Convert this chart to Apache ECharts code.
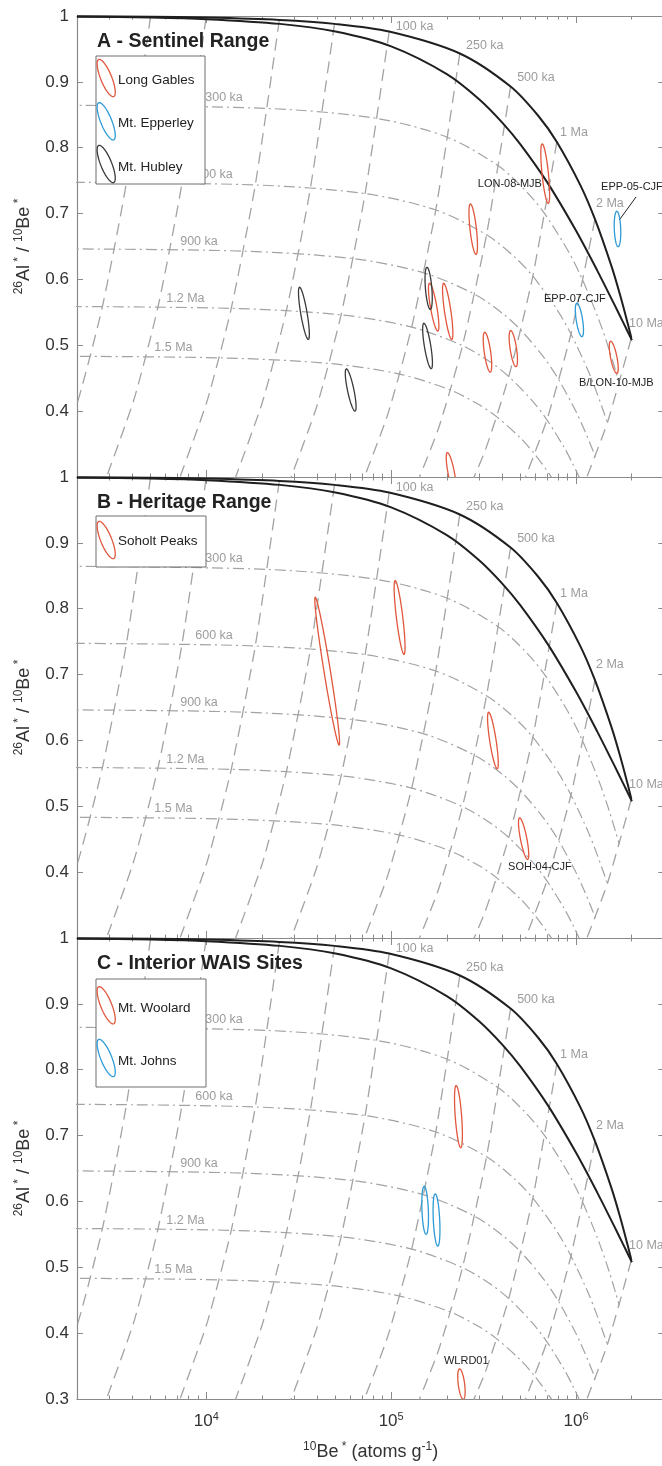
<!DOCTYPE html>
<html>
<head>
<meta charset="utf-8">
<script src="https://cdn.jsdelivr.net/npm/echarts@6/dist/echarts.min.js"></script>
<style>
html,body{margin:0;padding:0;background:#ffffff;}
#chart{width:662px;height:1466px;}
</style>
</head>
<body>
<div id="chart"></div>
<script>
// ---------------- DATA ----------------
// x = 10Be* (atoms g-1), y = 26Al*/10Be*
const xMajorTicks = [1e4, 1e5, 1e6];
const xMinorTicks = [3000,4000,5000,6000,7000,8000,9000,
  20000,30000,40000,50000,60000,70000,80000,90000,
  200000,300000,400000,500000,600000,700000,800000,900000,2000000,3000000];
const yTickLabelsAB = [0.4,0.5,0.6,0.7,0.8,0.9,1];
const yTickLabelsC = [0.3,0.4,0.5,0.6,0.7,0.8,0.9,1];

// constant exposure curve
const exposureCurve = [[1999,0.99952],[4994,0.99879],[9975,0.99758],[24845,0.99399],[49381,0.98805],
  [97547,0.97634],[235042,0.94305],[442401,0.89283],[625583,0.84815],[787150,0.80877],
  [1055954,0.74288],[1265299,0.69143],[1555513,0.61973],[1731711,0.57593],[1903633,0.53293],
  [1967008,0.51697],[1990369,0.51107]];
// steady erosion curve
const erosionCurve = [[2000,0.99903],[5000,0.99759],[10000,0.99518],[25000,0.98804],[50000,0.97637],
  [100000,0.95383],[200000,0.91174],[300000,0.87321],[400000,0.83780],[500000,0.80515],
  [700000,0.74694],[1000000,0.67385],[1300000,0.61380],[1600000,0.56357],[1800000,0.53442],
  [1900000,0.52094],[2004008,0.50763]];

// burial isochrons
const isochron300ka = [[1721,0.86443],[21391,0.85965],[83985,0.84439],[202365,0.81560],[380894,0.77217],
  [538609,0.73352],[677713,0.69947],[909146,0.64248],[1089385,0.59798],[1339249,0.53597],
  [1490950,0.49809],[1638969,0.46090],[1713648,0.44200]];
const isochron600ka = [[1482,0.74761],[18417,0.74347],[72309,0.73027],[174230,0.70537],[327940,0.66781],
  [463726,0.63439],[583491,0.60494],[782747,0.55565],[937928,0.51717],[1153055,0.46354],
  [1283666,0.43078],[1411106,0.39861],[1475401,0.38226]];
const isochron900ka = [[1276,0.64657],[15857,0.64299],[62256,0.63157],[150009,0.61004],[282349,0.57755],
  [399260,0.54865],[502375,0.52318],[673933,0.48055],[807539,0.44727],[992760,0.40089],
  [1105213,0.37256],[1214938,0.34474],[1270293,0.33060]];
const isochron1200ka = [[1098,0.55919],[13652,0.55610],[53601,0.54622],[129153,0.52760],[243095,0.49950],
  [343752,0.47451],[432531,0.45247],[580236,0.41561],[695269,0.38683],[854740,0.34671],
  [951558,0.32221],[1046026,0.29815],[1093688,0.28592]];
const isochron1500ka = [[946,0.48361],[11754,0.48093],[46148,0.47239],[111194,0.45628],[209291,0.43199],
  [295951,0.41037],[372385,0.39131],[499551,0.35944],[598588,0.33454],[735882,0.29985],
  [819240,0.27866],[900574,0.25785],[941610,0.24728]];

// burial paths starting from the exposure curve
const path5ka = [[4994,0.99879],[3702,0.74707],[2744,0.55878],[2034,0.41796],[1434,0.29784]];
const path10ka = [[9975,0.99758],[7394,0.74616],[5481,0.55811],[4063,0.41746],[2865,0.29748]];
const path25ka = [[24845,0.99399],[18417,0.74347],[13652,0.55610],[10120,0.41596],[7136,0.29641]];
const path50ka = [[49381,0.98805],[36605,0.73903],[27134,0.55277],[20114,0.41347],[14183,0.29464]];
const path100ka = [[97547,0.97634],[72309,0.73027],[53601,0.54622],[39734,0.40857],[28017,0.29114]];
const path250ka = [[235042,0.94305],[174230,0.70537],[129153,0.52760],[95740,0.39464],[67509,0.28122]];
const path500ka = [[442401,0.89283],[327940,0.66781],[243095,0.49950],[180203,0.37362],[127066,0.26624]];
const path1Ma = [[787150,0.80877],[583491,0.60494],[432531,0.45247],[320630,0.33845],[226085,0.24118]];
const path2Ma = [[1265299,0.69143],[937928,0.51717],[695269,0.38683],[515394,0.28934]];
const path10Ma = [[1990369,0.51107],[1475401,0.38226],[1093688,0.28592]];

// labels (left end, middle) in data space
const timeLabels = [[106000,0.9833,'100 ka'],[254000,0.9544,'250 ka'],[480000,0.9059,'500 ka'],
  [819000,0.8224,'1 Ma'],[1282000,0.7146,'2 Ma'],[1934000,0.5323,'10 Ma']];
const isochronLabels = [[9880,0.8755,'300 ka'],[8720,0.7586,'600 ka'],[7230,0.6568,'900 ka'],
  [6080,0.5703,'1.2 Ma'],[5240,0.4959,'1.5 Ma']];
const sampleLabelsA = [[294000,0.7449,'LON-08-MJB'],[1365000,0.7404,'EPP-05-CJF'],
  [671000,0.5703,'EPP-07-CJF'],[1038000,0.4428,'B/LON-10-MJB']];
const sampleLabelsB = [[429000,0.4078,'SOH-04-CJF']];
const sampleLabelsC = [[193000,0.3577,'WLRD01']];
const leaderEPP05 = [[2110000,0.7252],[1714000,0.6903]];

// uncertainty ellipses: [x top, y top, x bottom, y bottom]
const longGables = [[655000,0.8067,708000,0.7145],[268000,0.7156,288000,0.6371],[161000,0.595,179000,0.5207],
  [192000,0.595,213000,0.508],[320000,0.5207,344000,0.4584],[442000,0.5232,474000,0.4666],
  [1534000,0.507,1666000,0.4564],[201000,0.338,222000,0.275]];
const mtEpperley = [[1660000,0.7044,1690000,0.6488],[1008000,0.5647,1078000,0.5121]];
const mtHubley = [[156000,0.6193,163000,0.5536],[150000,0.5343,165000,0.4636],[57100,0.465,63900,0.3992],
  [31900,0.589,35700,0.508]];
const soholtPeaks = [[38800,0.8183,52400,0.592],[105000,0.8436,117500,0.7297],[336000,0.6436,375000,0.5562],
  [494000,0.4833,548000,0.4185]];
const mtWoolard = [[224500,0.7768,238000,0.6807],[234000,0.3466,246000,0.2985]];
const mtJohns = [[150800,0.6239,154600,0.549],[173000,0.6124,178800,0.5313]];

// ---------------- STYLE / LAYOUT ----------------
const FONT = '"Liberation Sans", Arial, Helvetica, sans-serif';
const RED = '#e0573d', BLUE = '#2e9bd6', DARK = '#3a3a3a';
const AXIS = '#8a8a8a', GREY = '#a3a3a3', LABEL_GREY = '#9c9c9c', TXT = '#333333';
const X_MIN = 2000, X_MAX = 3000000;
const GRID_LEFT = 77, GRID_W = 587.3, GRID_H = 461;
const GRID_TOPS = [16, 477, 938];
const ELLIPSE_HALF_W = 3.2;

const panels = [
  { title: 'A - Sentinel Range',
    groups: [['Long Gables', longGables, RED], ['Mt. Epperley', mtEpperley, BLUE], ['Mt. Hubley', mtHubley, DARK]],
    labels: sampleLabelsA, yLabels: yTickLabelsAB, xLabels: false,
    legend: { box: [96, 56, 109, 128], items: [[78, 80], [121.3, 123], [164, 167]] } },
  { title: 'B - Heritage Range',
    groups: [['Soholt Peaks', soholtPeaks, RED]],
    labels: sampleLabelsB, yLabels: yTickLabelsAB, xLabels: false,
    legend: { box: [96, 516, 110, 51], items: [[540, 541.7]] } },
  { title: 'C - Interior WAIS Sites',
    groups: [['Mt. Woolard', mtWoolard, RED], ['Mt. Johns', mtJohns, BLUE]],
    labels: sampleLabelsC, yLabels: yTickLabelsC, xLabels: true,
    legend: { box: [96, 979, 110, 108], items: [[1005.3, 1008], [1058, 1061]] } }
];

function ellipsePoints(cx, cy, ux, uy, a, b) {
  const vx = -uy, vy = ux, pts = [];
  for (let k = 0; k < 60; k++) {
    const f = 2 * Math.PI * k / 60, c = Math.cos(f), s = Math.sin(f);
    pts.push([cx + ux * a * c + vx * b * s, cy + uy * a * c + vy * b * s]);
  }
  return pts;
}

function ellipseRenderer(color) {
  return function (params, api) {
    const p1 = api.coord([api.value(0), api.value(1)]);
    const p2 = api.coord([api.value(2), api.value(3)]);
    const cx = (p1[0] + p2[0]) / 2, cy = (p1[1] + p2[1]) / 2;
    const dx = (p2[0] - p1[0]) / 2, dy = (p2[1] - p1[1]) / 2;
    const L = Math.hypot(dx, dy) || 1;
    const a = Math.max(L - 0.6, 1);
    return { type: 'polygon', shape: { points: ellipsePoints(cx, cy, dx / L, dy / L, a, ELLIPSE_HALF_W) },
      style: { fill: 'none', stroke: color, lineWidth: 1.3 } };
  };
}

function textRenderer(arr, color, size, weight) {
  return function (params, api) {
    const p = api.coord([api.value(0), api.value(1)]);
    return { type: 'text', x: p[0], y: p[1],
      style: { text: arr[params.dataIndex][2], fill: color, fontSize: size, fontFamily: FONT,
               fontWeight: weight, align: 'left', verticalAlign: 'middle' } };
  };
}

const supRich = {
  b: { fontSize: 18, color: TXT, fontFamily: FONT, lineHeight: 22 },
  s: { fontSize: 12, color: TXT, fontFamily: FONT, lineHeight: 12, verticalAlign: 'top' }
};

const grids = [], xAxes = [], yAxes = [], series = [], graphics = [];

panels.forEach((pn, i) => {
  grids.push({ left: GRID_LEFT, top: GRID_TOPS[i], width: GRID_W, height: GRID_H,
               containLabel: false, outerBoundsMode: 'none' });
  const xi = xAxes.length, yi = yAxes.length;
  const baseX = { type: 'log', logBase: 10, gridIndex: i, min: X_MIN, max: X_MAX,
                  splitLine: { show: false }, minorTick: { show: false }, minorSplitLine: { show: false } };
  xAxes.push(Object.assign({}, baseX, {
    position: 'bottom',
    axisLine: { show: true, lineStyle: { color: AXIS, width: 1.2 } },
    axisTick: { show: true, inside: true, length: 7, customValues: xMajorTicks, lineStyle: { color: AXIS } },
    axisLabel: { show: pn.xLabels, customValues: xMajorTicks, margin: 12,
      formatter: v => '{b|10}{s|' + Math.round(Math.log10(v)) + '}',
      rich: { b: { fontSize: 17, color: TXT, fontFamily: FONT, lineHeight: 20 },
              s: { fontSize: 11, color: TXT, fontFamily: FONT, lineHeight: 11, verticalAlign: 'top' } } },
    name: pn.xLabels ? '{s|10}{b|Be}{s| *}{b| (atoms g}{s|-1}{b|)}' : '',
    nameLocation: 'middle', nameGap: 42, nameTextStyle: { rich: supRich }
  }));
  xAxes.push(Object.assign({}, baseX, { position: 'bottom', axisLine: { show: false },
    axisTick: { show: true, inside: true, length: 3.5, customValues: xMinorTicks, lineStyle: { color: AXIS } },
    axisLabel: { show: false } }));
  xAxes.push(Object.assign({}, baseX, { position: 'top',
    axisLine: { show: true, lineStyle: { color: AXIS, width: 1.2 } },
    axisTick: { show: true, inside: true, length: 7, customValues: xMajorTicks, lineStyle: { color: AXIS } },
    axisLabel: { show: false } }));
  xAxes.push(Object.assign({}, baseX, { position: 'top', axisLine: { show: false },
    axisTick: { show: true, inside: true, length: 3.5, customValues: xMinorTicks, lineStyle: { color: AXIS } },
    axisLabel: { show: false } }));

  const baseY = { type: 'value', gridIndex: i, min: 0.3, max: 1, interval: 0.1, splitLine: { show: false } };
  yAxes.push(Object.assign({}, baseY, { position: 'left',
    axisLine: { show: true, lineStyle: { color: AXIS, width: 1.2 } },
    axisTick: { show: true, inside: true, length: 6, lineStyle: { color: AXIS } },
    axisLabel: { show: true, customValues: pn.yLabels, margin: 8, color: TXT, fontSize: 17, fontFamily: FONT,
      formatter: v => (Math.abs(v - 1) < 1e-9 ? '1' : v.toFixed(1)) },
    name: '{s|26}{b|Al}{s| *}{b| / }{s|10}{b|Be}{s| *}', nameLocation: 'middle', nameRotate: 90, nameGap: 42,
    nameTextStyle: { rich: supRich } }));
  yAxes.push(Object.assign({}, baseY, { position: 'right',
    axisLine: { show: true, lineStyle: { color: AXIS, width: 1.2 } },
    axisTick: { show: true, inside: true, length: 6, lineStyle: { color: AXIS } },
    axisLabel: { show: false } }));

  const common = { xAxisIndex: xi, yAxisIndex: yi, silent: true, animation: false };
  const lineS = (data, style, smooth, z) => Object.assign({ type: 'line', data: data, showSymbol: false,
    symbol: 'none', smooth: smooth, clip: true, lineStyle: style, z: z }, common);

  [isochron300ka, isochron600ka, isochron900ka, isochron1200ka, isochron1500ka].forEach(d =>
    series.push(lineS(d, { color: GREY, width: 1.2, type: [11, 4, 2, 4] }, 0.3, 2)));
  [path5ka, path10ka, path25ka, path50ka, path100ka, path250ka, path500ka, path1Ma, path2Ma, path10Ma].forEach(d =>
    series.push(lineS(d, { color: GREY, width: 1.3, type: [12, 7] }, 0.2, 2)));
  series.push(lineS(exposureCurve, { color: '#1f1f1f', width: 2 }, 0.3, 3));
  series.push(lineS(erosionCurve, { color: '#1f1f1f', width: 2 }, 0.3, 3));
  if (i === 0) series.push(lineS(leaderEPP05, { color: '#222', width: 1 }, false, 3));

  const txtSeries = (arr, color, size, weight) => Object.assign({ type: 'custom', z: 4, clip: false,
    data: arr.map(d => [d[0], d[1]]), renderItem: textRenderer(arr, color, size, weight) }, common);
  series.push(txtSeries(timeLabels, LABEL_GREY, 12.5, 'normal'));
  series.push(txtSeries(isochronLabels, LABEL_GREY, 12.5, 'normal'));
  series.push(txtSeries(pn.labels, '#222', 11, 'normal'));

  pn.groups.forEach(g => {
    series.push(Object.assign({ type: 'custom', name: g[0], z: 5, clip: true,
      dimensions: ['x1', 'y1', 'x2', 'y2'], encode: { x: ['x1', 'x2'], y: ['y1', 'y2'] },
      data: g[1], itemStyle: { color: g[2] }, renderItem: ellipseRenderer(g[2]) }, common));
  });

  // panel title
  graphics.push({ type: 'text', x: 97, y: GRID_TOPS[i] + 26, z: 60,
    style: { text: pn.title, fill: '#222', fontSize: 19.5, fontWeight: 'bold', fontFamily: FONT,
             align: 'left', verticalAlign: 'middle' } });
  // legend box
  const bx = pn.legend.box;
  graphics.push({ type: 'rect', z: 60, shape: { x: bx[0], y: bx[1], width: bx[2], height: bx[3] },
    style: { fill: '#ffffff', stroke: '#6e6e6e', lineWidth: 1 } });
  const th = 22 * Math.PI / 180;
  pn.groups.forEach((g, k) => {
    const it = pn.legend.items[k];
    graphics.push({ type: 'polygon', z: 61,
      shape: { points: ellipsePoints(106.2, it[0], Math.sin(th), Math.cos(th), 20, 5.5) },
      style: { fill: 'none', stroke: g[2], lineWidth: 1.3 } });
    graphics.push({ type: 'text', x: 118, y: it[1], z: 61,
      style: { text: g[0], fill: '#222', fontSize: 13.5, fontFamily: FONT, align: 'left', verticalAlign: 'middle' } });
  });
});

const chart = echarts.init(document.getElementById('chart'), null, { renderer: 'canvas' });
chart.setOption({
  animation: false,
  backgroundColor: '#ffffff',
  textStyle: { fontFamily: FONT },
  grid: grids,
  xAxis: xAxes,
  yAxis: yAxes,
  series: series,
  graphic: { elements: graphics }
});
</script>
</body>
</html>
